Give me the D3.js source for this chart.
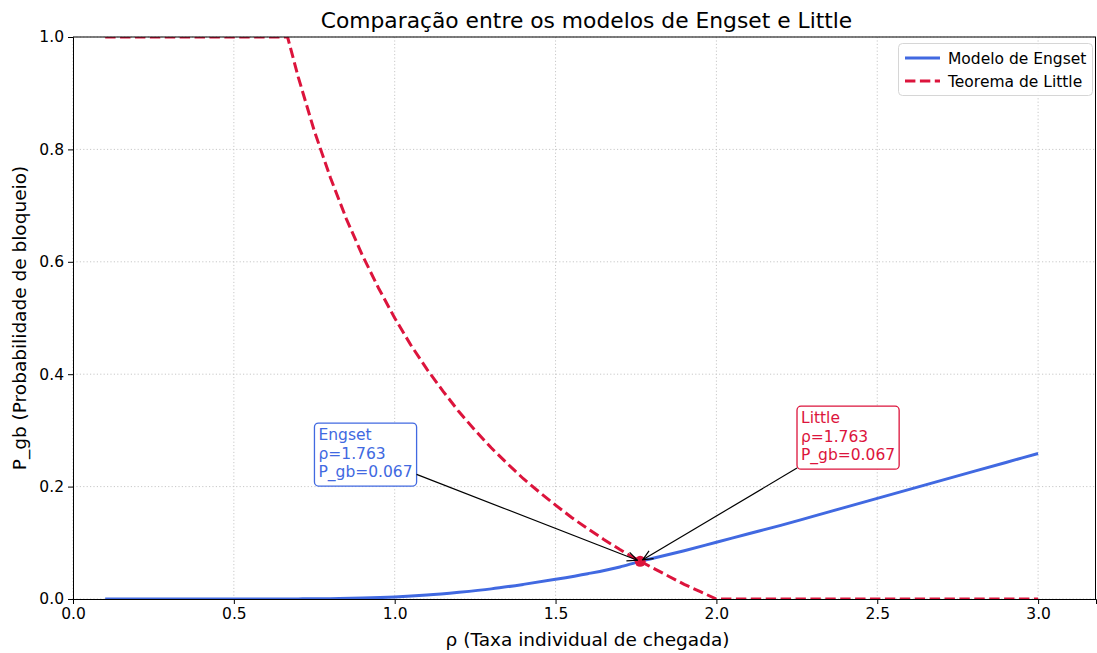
<!DOCTYPE html>
<html><head><meta charset="utf-8">
<script src="https://cdn.jsdelivr.net/npm/d3@7"></script>
<style>body{margin:0;background:#fff}svg{display:block;font-family:"DejaVu Sans",sans-serif}</style>
</head><body>
<svg id="c" width="1097" height="653"></svg>
<script>
// ---- data ----
const engsetRho = [0.1,0.2,0.3,0.4,0.5,0.6,0.7,0.8,0.9,1.0,1.1,1.2,1.3,1.4,1.5,1.6,1.7,1.763,1.8,1.9,2.0,2.1,2.2,2.3,2.4,2.5,2.6,2.7,2.8,2.9,3.0];
const engsetP   = [0,0,0,0,0,0,0.0002,0.0006,0.0016,0.0036,0.007,0.012,0.018,0.026,0.035,0.045,0.057,0.067,0.072,0.086,0.101,0.116,0.131,0.147,0.163,0.179,0.195,0.211,0.227,0.243,0.259];
const littleRho = [0.1,0.3,0.5,0.667,0.7,0.75,0.8,0.85,0.9,0.95,1.0,1.05,1.1,1.15,1.2,1.25,1.3,1.35,1.4,1.45,1.5,1.55,1.6,1.65,1.7,1.75,1.8,1.85,1.9,1.95,2.0,2.5,3.0];
const littleP   = [1,1,1,1,0.929,0.833,0.75,0.676,0.611,0.553,0.5,0.452,0.409,0.37,0.333,0.3,0.269,0.241,0.214,0.19,0.167,0.145,0.125,0.106,0.088,0.071,0.056,0.041,0.026,0.013,0,0,0];
const crossRho = 1.763, crossP = 0.067;
const xTicks = [0,0.5,1.0,1.5,2.0,2.5,3.0];
const yTicks = [0,0.2,0.4,0.6,0.8,1.0];
const titleText = "Comparação entre os modelos de Engset e Little";
const xLabel = "ρ (Taxa individual de chegada)";
const yLabel = "P_gb (Probabilidade de bloqueio)";
const legendNames = ["Modelo de Engset","Teorema de Little"];

const blue = "#4169E1", red = "#DC143C";
const svg = d3.select("#c");
const L=73,R=1096,T=37,B=599;
const x = d3.scaleLinear().domain([0,3.18]).range([L,R]);
const y = d3.scaleLinear().domain([0,1]).range([B,T]);

svg.append("defs").append("clipPath").attr("id","clip")
  .append("rect").attr("x",L).attr("y",T).attr("width",R-L).attr("height",B-T);
svg.select("defs").append("marker").attr("id","ah").attr("viewBox","0 0 12 12")
  .attr("refX",11).attr("refY",6).attr("markerWidth",12).attr("markerHeight",12)
  .attr("markerUnits","userSpaceOnUse").attr("orient","auto")
  .append("path").attr("d","M1,1.5 L11,6 L1,10.5").attr("fill","none").attr("stroke","#000").attr("stroke-width",1.2);

// grid
const g = svg.append("g");
g.selectAll(".gx").data(xTicks).join("line").attr("x1",d=>x(d)).attr("x2",d=>x(d)).attr("y1",T).attr("y2",B)
  .attr("stroke","#c8c8c8").attr("stroke-width",1).attr("stroke-dasharray","1.2,2.2");
g.selectAll(".gy").data(yTicks).join("line").attr("y1",d=>y(d)).attr("y2",d=>y(d)).attr("x1",L).attr("x2",R)
  .attr("stroke","#c8c8c8").attr("stroke-width",1).attr("stroke-dasharray","1.2,2.2");

// lines
const lineS = d3.line().x(d=>x(d[0])).y(d=>y(d[1])).curve(d3.curveMonotoneX);
const lineL = d3.line().x(d=>x(d[0])).y(d=>y(d[1]));
const plot = svg.append("g").attr("clip-path","url(#clip)");
plot.append("path").datum(engsetRho.map((r,i)=>[r,engsetP[i]])).attr("d",lineS)
  .attr("fill","none").attr("stroke",blue).attr("stroke-width",3);
plot.append("path").datum(littleRho.map((r,i)=>[r,littleP[i]])).attr("d",lineL)
  .attr("fill","none").attr("stroke",red).attr("stroke-width",3).attr("stroke-dasharray","10.4,4.5");
plot.append("circle").attr("cx",x(crossRho)).attr("cy",y(crossP)).attr("r",5.5).attr("fill",red);

// axes
const ax = svg.append("g").attr("transform",`translate(0,${B})`).call(d3.axisBottom(x).tickValues(xTicks).tickFormat(d3.format(".1f")).tickSizeOuter(0).tickSize(5).tickPadding(4));
const ay = svg.append("g").attr("transform",`translate(${L},0)`).call(d3.axisLeft(y).tickValues(yTicks).tickFormat(d3.format(".1f")).tickSizeOuter(0).tickSize(5).tickPadding(4));
[ax,ay].forEach(a=>{a.selectAll("text").attr("font-size",15.5).attr("fill","#000").attr("font-family","DejaVu Sans");
  a.selectAll("line").attr("stroke","#000"); a.select(".domain").attr("stroke","#000").attr("stroke-width",1);});
svg.append("line").attr("x1",L).attr("x2",R).attr("y1",T).attr("y2",T).attr("stroke","#000").attr("stroke-width",1);
svg.append("line").attr("x1",R-0.5).attr("x2",R-0.5).attr("y1",T).attr("y2",B).attr("stroke","#000").attr("stroke-width",1);

// labels
svg.append("text").attr("x",(L+R)/2+2).attr("y",28).attr("text-anchor","middle").attr("font-size",21.8).text(titleText);
svg.append("text").attr("x",(L+R)/2+3).attr("y",646).attr("text-anchor","middle").attr("font-size",18.5).text(xLabel);
svg.append("text").attr("transform",`translate(26,${(T+B)/2}) rotate(-90)`).attr("text-anchor","middle").attr("font-size",18.5).text(yLabel);

// annotations
function annotate(lines,color,tx,ty){
  const gA = svg.append("g");
  const t = gA.append("text").attr("fill",color).attr("font-size",15.5);
  lines.forEach((s,i)=>t.append("tspan").attr("x",x(tx)).attr("y",y(ty)-(lines.length-1-i)*18.5).text(s));
  const bb = t.node().getBBox();
  const pad=4;
  const bx=bb.x-pad, by=bb.y-pad+1, bw=bb.width+2*pad, bh=bb.height+2*pad-1;
  gA.insert("rect","text").attr("x",bx).attr("y",by).attr("width",bw).attr("height",bh).attr("rx",4)
    .attr("fill","#fff").attr("stroke",color).attr("stroke-width",1.3);
  const cx=bx+bw/2, cy=by+bh/2, px=x(crossRho), py=y(crossP);
  const dx=px-cx, dy=py-cy;
  const tt = Math.min(Math.abs((bw/2)/dx), Math.abs((bh/2)/dy));
  const sx=cx+dx*tt, sy=cy+dy*tt;
  const len=Math.hypot(px-sx,py-sy), sh=3;
  svg.append("line").attr("x1",sx).attr("y1",sy).attr("x2",px-(px-sx)/len*sh).attr("y2",py-(py-sy)/len*sh)
    .attr("stroke","#000").attr("stroke-width",1.2).attr("marker-end","url(#ah)");
}
annotate(["Engset","ρ="+crossRho.toFixed(3),"P_gb="+crossP.toFixed(3)],blue,crossRho-1.0,crossP+0.15);
annotate(["Little","ρ="+crossRho.toFixed(3),"P_gb="+crossP.toFixed(3)],red,crossRho+0.5,crossP+0.18);

// legend
const lg = svg.append("g");
lg.append("rect").attr("x",898.5).attr("y",43.5).attr("width",194).attr("height",52).attr("rx",4)
  .attr("fill","#fff").attr("fill-opacity",0.8).attr("stroke","#d6d6d6");
[[blue,null],[red,"10.4,4.5"]].forEach((s,i)=>{
  const yy=58+i*23;
  lg.append("line").attr("x1",905).attr("x2",940).attr("y1",yy).attr("y2",yy).attr("stroke",s[0]).attr("stroke-width",3).attr("stroke-dasharray",s[1]);
  lg.append("text").attr("x",948).attr("y",yy+5.5).attr("font-size",15.5).text(legendNames[i]);
});
</script>
</body></html>
